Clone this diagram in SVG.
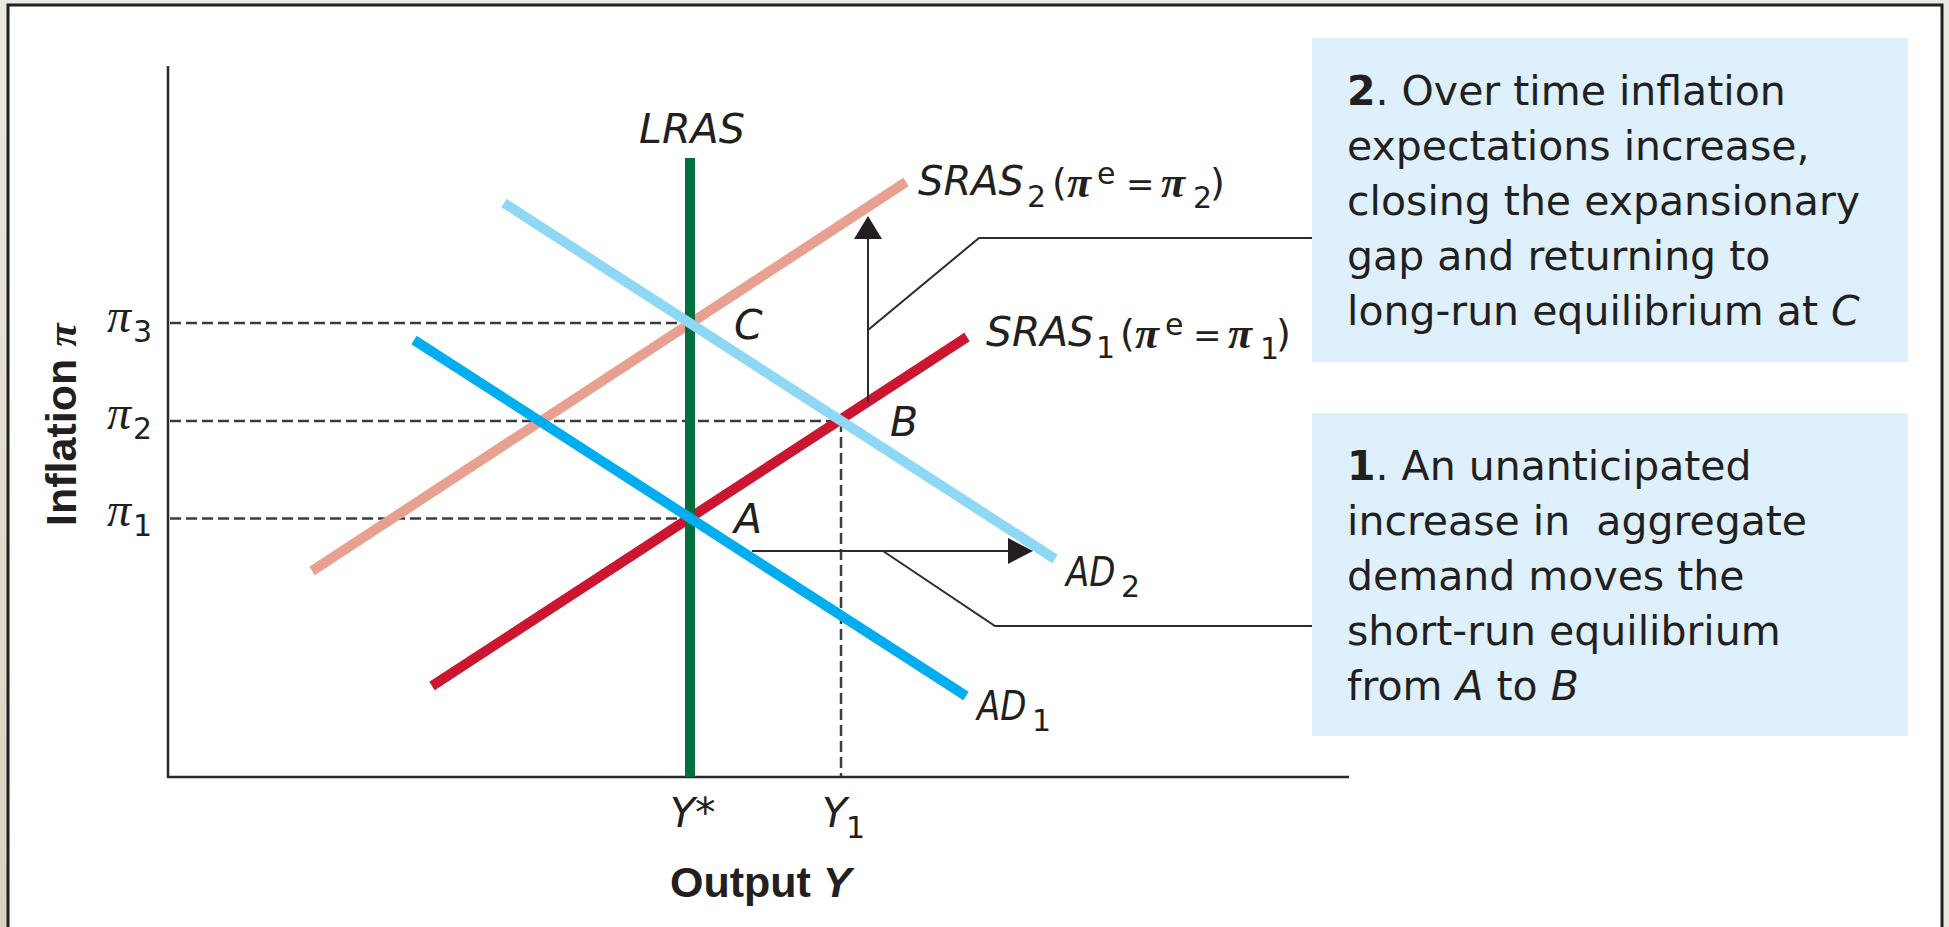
<svg xmlns="http://www.w3.org/2000/svg" width="1949" height="927" viewBox="0 0 1949 927">
  <defs>
    <linearGradient id="beige" x1="0" y1="0" x2="0" y2="1">
      <stop offset="0" stop-color="#ece9e2"/>
      <stop offset="1" stop-color="#dad2c1"/>
    </linearGradient>
    <style>
      .curve { fill: none; stroke-width: 10; stroke-linecap: butt; }
      .axis { fill: none; stroke: #2a2a2a; stroke-width: 2.5; }
      .dash { fill: none; stroke: #3c3c3c; stroke-width: 2.5; stroke-dasharray: 11 5; }
      .lead { fill: none; stroke: #2b2b2b; stroke-width: 2; }
      .head { fill: #231f20; }
      .lbl { font-family: "DejaVu Sans", sans-serif; font-size: 41px; fill: #231f20; }
      .it { font-style: italic; }
      .sub { font-family: "DejaVu Sans", sans-serif; font-size: 30px; fill: #231f20; }
      .eq { font-family: "DejaVu Sans", sans-serif; font-size: 34px; fill: #231f20; }
      .par { font-family: "DejaVu Sans", sans-serif; font-size: 38px; fill: #231f20; }
      .pi { font-family: "Liberation Serif", serif; font-style: italic; font-size: 48px; fill: #231f20; }
      .pib { font-family: "Liberation Serif", serif; font-style: italic; font-weight: bold; font-size: 44px; fill: #231f20; }
      .ttl { font-family: "Liberation Sans", sans-serif; font-weight: bold; font-size: 43px; fill: #231f20; }
      .box { fill: #ddf0fb; }
      .btxt { font-family: "DejaVu Sans", sans-serif; font-size: 41px; fill: #231f20; white-space: pre; }
    </style>
  </defs>

  <!-- frame -->
  <rect x="0" y="0" width="1949" height="927" fill="#ece9e2"/>
  <rect x="0" y="0" width="8" height="927" fill="url(#beige)"/>
  <rect x="8" y="5" width="1934" height="940" fill="#ffffff" stroke="#231f20" stroke-width="3"/>

  <!-- axes and guides -->
  <g id="axes">
    <line class="axis" x1="168" y1="66" x2="168" y2="778"/>
    <line class="axis" x1="167" y1="777" x2="1349" y2="777"/>
    <line class="dash" x1="170" y1="323" x2="690" y2="323"/>
    <line class="dash" x1="170" y1="421" x2="841" y2="421"/>
    <line class="dash" x1="170" y1="518.5" x2="690" y2="518.5"/>
    <line class="dash" x1="841" y1="421" x2="841" y2="776"/>
  </g>

  <!-- curves -->
  <g id="SRAS2"><line class="curve" stroke="#e8a190" x1="312" y1="571" x2="906" y2="182"/></g>
  <g id="SRAS1"><line class="curve" stroke="#cc152f" x1="432" y1="686" x2="967" y2="337"/></g>
  <g id="LRAS"><line class="curve" stroke="#006f3c" x1="690" y1="158" x2="690" y2="777"/></g>
  <g id="AD1"><line class="curve" stroke="#00aeef" x1="414" y1="340" x2="966" y2="696"/></g>
  <g id="AD2"><line class="curve" stroke="#8ed8f6" x1="504" y1="203" x2="1055" y2="559"/></g>

  <!-- connectors -->
  <g id="connectors">
    <line class="lead" x1="868" y1="402" x2="868" y2="236"/>
    <polygon class="head" points="868,216 854,239 882,239"/>
    <line class="lead" x1="752" y1="551" x2="1012" y2="551"/>
    <polygon class="head" points="1033,551 1008,538 1008,564"/>
    <polyline class="lead" points="868,330 979,238 1312,238"/>
    <polyline class="lead" points="883,551 995,626 1312,626"/>
  </g>

  <!-- curve labels -->
  <g id="labels">
    <text class="lbl it" x="639" y="143" textLength="106" lengthAdjust="spacingAndGlyphs">LRAS</text>
    <text class="lbl it" x="734" y="339">C</text>
    <text class="lbl it" x="890" y="436">B</text>
    <text class="lbl it" x="734" y="533">A</text>

    <text class="lbl it" transform="translate(1066,586) scale(0.83,1)">AD</text>
    <text class="sub" x="1121" y="597">2</text>
    <text class="lbl it" transform="translate(977,720) scale(0.83,1)">AD</text>
    <text class="sub" x="1032" y="731">1</text>

    <text class="lbl it" x="918" y="195" textLength="106" lengthAdjust="spacingAndGlyphs">SRAS</text>
    <text class="sub" x="1027" y="207">2</text>
    <text class="par" x="1052" y="195">(</text>
    <text class="pib" x="1067" y="197">π</text>
    <text class="sub" x="1097" y="184">e</text>
    <text class="eq" x="1126" y="196">=</text>
    <text class="pib" x="1161" y="197">π</text>
    <text class="sub" x="1193" y="208">2</text>
    <text class="par" x="1210" y="195">)</text>

    <text class="lbl it" x="986" y="346" textLength="108" lengthAdjust="spacingAndGlyphs">SRAS</text>
    <text class="sub" x="1096" y="358">1</text>
    <text class="par" x="1120" y="346">(</text>
    <text class="pib" x="1135" y="348">π</text>
    <text class="sub" x="1165" y="335">e</text>
    <text class="eq" x="1193" y="347">=</text>
    <text class="pib" x="1228" y="348">π</text>
    <text class="sub" x="1260" y="359">1</text>
    <text class="par" x="1276" y="346">)</text>
  </g>

  <!-- axis tick labels -->
  <g id="ticks">
    <text class="pi" x="107" y="332">π</text><text class="sub" x="133" y="342">3</text>
    <text class="pi" x="107" y="429">π</text><text class="sub" x="133" y="439">2</text>
    <text class="pi" x="107" y="526">π</text><text class="sub" x="133" y="536">1</text>
    <text class="lbl it" x="670" y="827">Y</text><text class="lbl" x="695" y="827">*</text>
    <text class="lbl it" x="822" y="827">Y</text><text class="sub" x="846" y="838">1</text>
  </g>

  <!-- axis titles -->
  <g id="titles">
    <text class="ttl" x="670" y="897">Output <tspan font-style="italic">Y</tspan></text>
    <text class="ttl" transform="translate(76,526) rotate(-90)">Inflation <tspan font-family="Liberation Serif, serif" font-style="italic">π</tspan></text>
  </g>

  <!-- annotation boxes -->
  <g id="box2">
    <rect class="box" x="1312" y="38" width="596" height="324"/>
    <text class="btxt" x="1347" y="105"><tspan font-weight="bold">2</tspan>. Over time inflation</text>
    <text class="btxt" x="1347" y="160">expectations increase,</text>
    <text class="btxt" x="1347" y="215">closing the expansionary</text>
    <text class="btxt" x="1347" y="270">gap and returning to</text>
    <text class="btxt" x="1347" y="325">long-run equilibrium at <tspan font-style="italic">C</tspan></text>
  </g>
  <g id="box1">
    <rect class="box" x="1312" y="413" width="596" height="323"/>
    <text class="btxt" x="1347" y="480"><tspan font-weight="bold">1</tspan>. An unanticipated</text>
    <text class="btxt" x="1347" y="535">increase in  aggregate</text>
    <text class="btxt" x="1347" y="590">demand moves the</text>
    <text class="btxt" x="1347" y="645">short-run equilibrium</text>
    <text class="btxt" x="1347" y="700">from <tspan font-style="italic">A</tspan> to <tspan font-style="italic">B</tspan></text>
  </g>
</svg>
